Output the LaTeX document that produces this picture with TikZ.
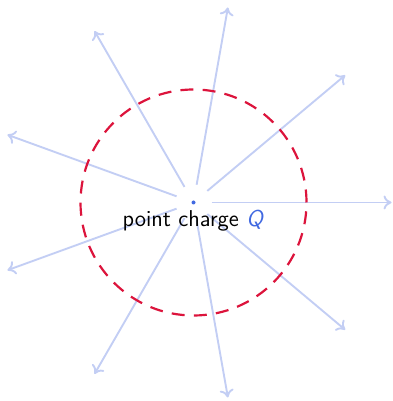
\documentclass[tikz,border=0pt]{standalone}
\usepackage{tikz}
\usetikzlibrary{arrows.meta,calc}
\definecolor{qblue}{HTML}{4169E1}
\definecolor{fieldblue}{HTML}{C3CEF4}
\definecolor{circred}{HTML}{DC143C}
\begin{document}
\begin{tikzpicture}[x=0.5bp,y=0.5bp,
  fieldline/.style={draw=fieldblue, line width=0.95bp, -{To[length=4bp,width=7bp]}},
  sphere/.style={draw=circred, line width=1.1bp, dash pattern=on 6.5bp off 4.6bp},
  chargelabel/.style={font=\fontsize{11.5}{13}\sffamily, inner sep=0pt, anchor=base}]
\useasboundingbox (0,0) rectangle (393,401);
\coordinate (C) at (193.5,198.5);
\foreach \a in {0,40,...,320}{
  \coordinate (s\a) at ($(C)+(\a:18)$);
  \coordinate (e\a) at ($(C)+(\a:198)$);
  \draw[fieldline] (s\a) -- (e\a);
}
\draw[sphere] (C) circle[radius=113];
\fill[qblue] (C) circle[radius=2];
\node[chargelabel] (lbl) at (193.5,174.5) {point charge \textcolor{qblue}{\textit{Q}}};
\end{tikzpicture}
\end{document}
